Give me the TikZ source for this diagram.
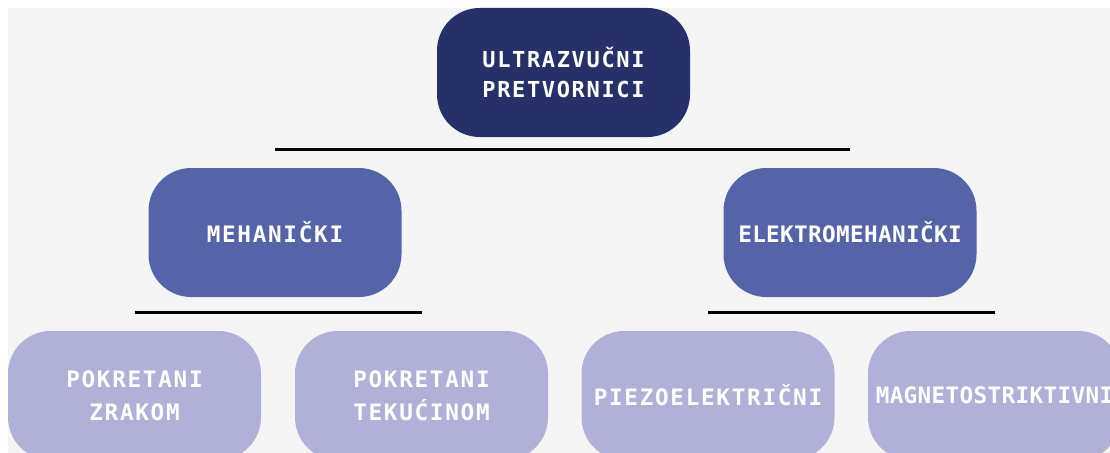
\documentclass[tikz,border=0pt]{standalone}
\usepackage{fontspec}
\newfontfamily\boxfont[LetterSpace=7.5]{DejaVu Sans Mono}
\newfontfamily\boxfonttight[LetterSpace=1.5]{DejaVu Sans Mono}

\definecolor{bgGrey}{RGB}{245,245,245}
\definecolor{navyBox}{RGB}{40,48,105}
\definecolor{midBox}{RGB}{87,99,169}
\definecolor{lilacBox}{RGB}{176,176,216}

\tikzset{every picture/.style={line width=0.75pt}}
\tikzset{
  pill/.style={rounded corners=32pt, minimum width=189.75pt, minimum height=96.75pt,
    inner sep=0pt, align=center, text=white, font=\boxfont\bfseries\fontsize{17}{25}\selectfont},
  tightpill/.style={pill, font=\boxfonttight\bfseries\fontsize{17}{25}\selectfont},
  bar/.style={line width=2.25pt}
}

\begin{document}
\begin{tikzpicture}[x=0.75pt,y=0.75pt,yscale=-1,xscale=1]
\clip (0,0) rectangle (1110,453);
\fill[white] (0,0) rectangle (1110,453);
\fill[bgGrey] (8,8) rectangle (1110,453);

%Shape: Rounded Rect [top]
\node[pill, fill=navyBox, font=\boxfont\bfseries\fontsize{16.5}{23}\selectfont] (ultra) at (563.5,72.5) {ULTRAZVUČNI\\PRETVORNICI};
%Shape: Rounded Rect [second row]
\node[pill, fill=midBox] (meh) at (275,232.5) {MEHANIČKI};
\node[tightpill, fill=midBox] (elmeh) at (850,232.5) {ELEKTROMEHANIČKI};
%Shape: Rounded Rect [third row]
\node[pill, fill=lilacBox] (zrak) at (134.5,395.5) {POKRETANI\\ZRAKOM};
\node[pill, fill=lilacBox] (tek) at (421.5,395.5) {POKRETANI\\TEKUĆINOM};
\node[pill, fill=lilacBox] (piezo) at (708,395.5) {PIEZOELEKTRIČNI};
\node[tightpill, fill=lilacBox] (magn) at (994.5,395.5) {MAGNETOSTRIKTIVNI};

%Straight Lines
\draw[bar] ([yshift=-13.5pt]meh.north) -- ([yshift=-13.5pt]elmeh.north);
\draw[bar] ([yshift=-13.5pt]zrak.north) -- ([yshift=-13.5pt]tek.north);
\draw[bar] ([yshift=-13.5pt]piezo.north) -- ([yshift=-13.5pt]magn.north);

\end{tikzpicture}
\end{document}
